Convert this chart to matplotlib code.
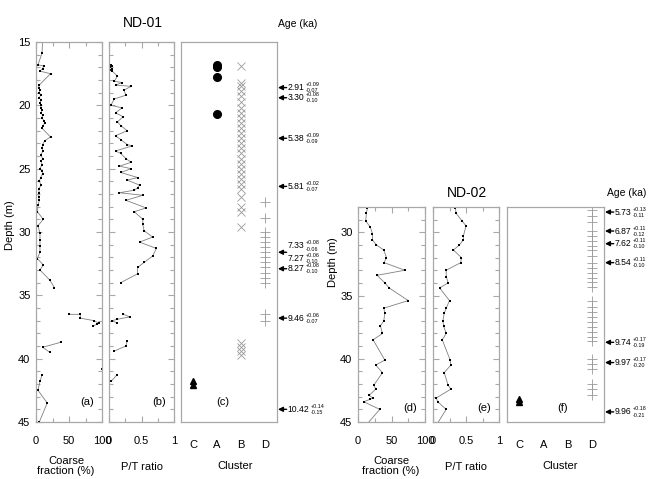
import matplotlib
matplotlib.use('Agg')
import matplotlib.pyplot as plt
import matplotlib.transforms as mtransforms
from matplotlib.ticker import MultipleLocator
from matplotlib import font_manager
import numpy as np

nan = np.nan

# ---- ND-01 data ----
# coarse fraction (%) vs depth (m), nan breaks the line
nd01_coarse_depth = [15.0, 15.9, 16.8, 16.9, 17.1, 17.3, 17.5, 18.4, 18.6, 18.8, 19.0, 19.2, 19.4,
                     19.6, 19.8, 20.0, 20.2, 20.4, 20.6, 20.8, 21.0, 21.2, 21.4, 21.6, 21.8, 22.5,
                     22.8, 23.1, 23.4, 23.6, 23.9, 24.2, 24.4, 24.7, 25.0, 25.2, 25.4, 25.7, 26.0,
                     26.3, 26.6, 26.9, 27.2, 27.5, 27.9, 28.4, 29.0, 29.5, 30.1, 30.6, 31.1, 31.6,
                     32.1, 32.6, 33.0, 33.8, 34.4, nan,
                     36.5, 36.5, 36.8, 37.0, 37.2, 37.3, 37.4, nan,
                     38.7, 39.1, 39.5, nan,
                     40.8, nan,
                     41.3, 41.8, 42.5, 43.5, 45.0]
nd01_coarse = [10, 9, 3, 12, 10, 6, 22, 5, 4, 6, 5, 7, 5,
               8, 6, 8, 7, 9, 8, 10, 9, 12, 13, 11, 9, 22,
               13, 10, 9, 11, 7, 10, 8, 9, 6, 9, 10, 7, 5,
               8, 4, 5, 4, 5, 3, 2, 11, 3, 6, 6, 6, 6,
               2, 11, 6, 21, 28, nan,
               50, 67, 67, 88, 95, 92, 87, nan,
               38, 10, 21, nan,
               100, nan,
               9, 6, 3, 17, 5]

# P/T ratio vs depth (m)
nd01_pt_depth = [16.8, 16.9, 17.0, 17.1, 17.2, 17.3, 17.7, 18.1, 18.2, 18.4, 18.5, 18.8, 19.2,
                 19.5, 20.0, 20.2, 20.6, 20.9, 21.3, 21.6, 22.0, 22.4, 22.7, 23.1, 23.2, 23.6,
                 23.8, 24.2, 24.5, 24.8, 25.0, 25.3, 25.7, 25.9, 26.3, 26.5, 26.7, 26.9, 27.1,
                 27.5, 28.1, 28.4, 29.0, 29.4, 29.9, 30.4, 30.8, 31.3, 31.9, 32.4, 32.8, 33.3,
                 34.0, nan,
                 36.5, 36.7, 36.9, 37.0, 37.2, nan,
                 38.6, 39.0, 39.4, nan,
                 41.3, 41.8]
nd01_pt = [0.03, 0.05, 0.02, 0.04, 0.03, 0.05, 0.13, 0.08, 0.20, 0.10, 0.34, 0.23, 0.26,
           0.08, 0.03, 0.20, 0.10, 0.22, 0.13, 0.18, 0.28, 0.10, 0.18, 0.28, 0.36, 0.10,
           0.18, 0.26, 0.34, 0.16, 0.34, 0.18, 0.44, 0.28, 0.47, 0.44, 0.39, 0.16, 0.52,
           0.26, 0.57, 0.39, 0.52, 0.52, 0.54, 0.67, 0.47, 0.73, 0.67, 0.54, 0.44, 0.44,
           0.18, nan,
           0.22, 0.32, 0.12, 0.05, 0.13, nan,
           0.28, 0.26, 0.08, nan,
           0.12, 0.03]

# cluster membership (depth of each sample)
nd01_cl_A = [16.8, 17.0, 17.8, 20.7]
nd01_cl_B = [16.9, 18.2, 18.5, 18.9, 19.3, 19.7, 20.2, 20.6, 21.0, 21.4, 21.8, 22.2, 22.6,
             23.0, 23.4, 23.8, 24.2, 24.6, 25.0, 25.4, 25.8, 26.2, 26.6, 27.2, 28.0, 28.4,
             29.6, 38.8, 39.1, 39.4, 39.7]
nd01_cl_C = [41.8, 42.1]
nd01_cl_D = [27.6, 28.9, 30.0, 30.4, 30.8, 31.2, 31.6, 32.0, 32.4, 32.8, 33.2, 33.6, 34.0,
             36.5, 37.0]

nd01_age_depth = [18.6, 19.4, 22.6, 26.4, 32.9, 36.8, 44.0]
nd01_age = ['2.91', '3.30', '5.38', '5.81', '8.27', '9.46', '10.42']
nd01_age_plus = ['0.09', '0.08', '0.09', '0.02', '0.08', '0.06', '0.14']
nd01_age_minus = ['0.07', '0.10', '0.09', '0.07', '0.10', '0.07', '0.15']
# two dates sharing one arrow
nd01_pair_depth = 31.6
nd01_pair = [('7.33', '0.08', '0.06'), ('7.27', '0.06', '0.10')]

# ---- ND-02 data ----
nd02_depth = [28.1, 28.5, 29.1, 29.6, 30.1, 30.6, 31.0, 31.4, 32.0, 32.4, 33.0, 33.4, 34.0,
              34.4, 35.4, 36.0, 36.4, 37.0, 37.4, 38.0, 38.5, 40.1, 40.5, 41.1, 42.1, 42.4,
              42.9, 43.1, 43.2, 43.4, 44.0, 45.5]
nd02_coarse = [14, 12.5, 11.5, 18.5, 21.5, 21.5, 27.5, 38.5, 42.5, 39, 70, 28.5, 40,
               46.5, 75, 38.5, 40, 38.5, 33.5, 36.5, 22.5, 40, 26.5, 36.5, 23.5, 26.5,
               16.5, 22.5, 18.5, 8.5, 32.5, 8]
nd02_pt_depth = [28.1, 28.5, 29.1, 29.5, 30.3, 30.6, 31.0, 31.4, 32.0, 32.4, 33.0, 33.5, 34.0,
                 34.4, 35.4, 36.0, 36.4, 37.0, 37.4, 38.0, 38.5, 40.1, 40.5, 41.1, 42.1, 42.4,
                 43.1, 43.4, 44.0, 45.5]
nd02_pt = [0.34, 0.35, 0.44, 0.50, 0.46, 0.46, 0.40, 0.31, 0.43, 0.42, 0.20, 0.20, 0.23,
           0.10, 0.25, 0.20, 0.17, 0.15, 0.16, 0.20, 0.14, 0.26, 0.27, 0.17, 0.23, 0.27,
           0.05, 0.07, 0.20, 0.02]

nd02_cl_C = [43.2, 43.4]
nd02_cl_D = [28.2, 28.7, 29.2, 29.9, 30.3, 30.7, 31.1, 31.4, 31.9, 32.4, 32.8, 33.2, 33.6,
             33.9, 34.3, 35.4, 35.9, 36.3, 36.7, 37.1, 37.5, 37.9, 38.3, 38.6, 40.0, 40.4,
             40.8, 42.0, 42.4, 42.9]

nd02_age_depth = [28.4, 29.9, 30.9, 32.4, 38.7, 40.3, 44.2]
nd02_age = ['5.73', '6.87', '7.62', '8.54', '9.74', '9.97', '9.96']
nd02_age_plus = ['0.13', '0.11', '0.11', '0.11', '0.17', '0.17', '0.18']
nd02_age_minus = ['0.11', '0.12', '0.10', '0.10', '0.19', '0.20', '0.21']

cluster_names = ['C', 'A', 'B', 'D']

# ---- style ----
plt.rcParams['font.family'] = 'Liberation Sans'

GRAY = '#a8a8a8'
W, H = 651, 479
fig = plt.figure(figsize=(W / 100, H / 100), dpi=100)
renderer = fig.canvas.get_renderer()


def rect(x0, y0, x1, y1):
    return [x0 / W, 1 - y1 / H, (x1 - x0) / W, (y1 - y0) / H]


def frame(ax):
    for s in ax.spines.values():
        s.set_color(GRAY)
        s.set_linewidth(0.9)


def data_panel(ax, top, xmax, xmajor, xminor, show_y):
    frame(ax)
    ax.set_ylim(45, top)
    ax.set_xlim(0, xmax)
    ax.yaxis.set_major_locator(MultipleLocator(5))
    ax.yaxis.set_minor_locator(MultipleLocator(1))
    ax.xaxis.set_major_locator(MultipleLocator(xmajor))
    ax.xaxis.set_minor_locator(MultipleLocator(xminor))
    ax.xaxis.set_major_formatter(plt.FuncFormatter(lambda v, p: '%g' % v))
    ax.tick_params(which='both', direction='in', top=True, right=True, color=GRAY, width=0.8)
    ax.tick_params(which='major', length=4)
    ax.tick_params(which='minor', length=3)
    ax.tick_params(axis='x', labelsize=8, pad=10)
    ax.tick_params(axis='y', labelsize=8, pad=4, labelleft=show_y)


def cluster_panel(ax, top):
    frame(ax)
    ax.set_ylim(45, top)
    ax.set_xlim(0.5, 4.5)
    ax.set_yticks([])
    ax.set_xticks([1, 2, 3, 4])
    ax.set_xticklabels(cluster_names)
    ax.tick_params(axis='x', length=0, labelsize=8, pad=13)


def age_label(ax, depth, val, plus, minus, arrow=True, dy=0.0):
    tr = mtransforms.blended_transform_factory(ax.transAxes, ax.transData)
    if arrow:
        ax.annotate('', xy=(1.01, depth), xycoords=tr, xytext=(1.10, depth), textcoords=tr,
                    arrowprops=dict(arrowstyle='-|>', color='k', lw=1.0, mutation_scale=7,
                                    shrinkA=0, shrinkB=0), annotation_clip=False)
    t = ax.text(1.112, depth + dy, val, transform=tr, ha='left', va='center', fontsize=6.2,
                clip_on=False)
    bb = t.get_window_extent(renderer)
    x = (bb.x1 + 1.5) / W
    yc = (bb.y0 + bb.y1) / 2
    fig.text(x, (yc + 3.0) / H, '+' + plus, ha='left', va='center', fontsize=3.9)
    fig.text(x, (yc - 3.2) / H, '-' + minus, ha='left', va='center', fontsize=3.9)


def line_plot(ax, x, y):
    ax.plot(x, y, '-', color='0.5', lw=0.6)
    ax.plot(x, y, 's', color='k', ms=2.0, mew=0, ls='none')


def clusters(ax, groups):
    for pos, depths, style in groups:
        ax.plot(np.full(len(depths), pos), depths, ls='none', **style)


A_STYLE = dict(marker='o', color='k', ms=5.5)
B_STYLE = dict(marker='x', color='#9a9a9a', ms=6, mew=0.6)
C_STYLE = dict(marker='^', color='k', ms=4.5)
D_STYLE = dict(marker='+', color='#9a9a9a', ms=7, mew=0.6)

# ---- ND-01 ----
a1 = fig.add_axes(rect(36, 42, 102, 422))
data_panel(a1, 15, 100, 50, 25, True)
line_plot(a1, nd01_coarse, nd01_coarse_depth)
a1.text(0.88, 0.04, '(a)', transform=a1.transAxes, ha='right', va='bottom', fontsize=8)

b1 = fig.add_axes(rect(109, 42, 174, 422))
data_panel(b1, 15, 1, 0.5, 0.25, False)
line_plot(b1, nd01_pt, nd01_pt_depth)
b1.text(0.88, 0.04, '(b)', transform=b1.transAxes, ha='right', va='bottom', fontsize=8)

c1 = fig.add_axes(rect(181, 42, 277, 422))
cluster_panel(c1, 15)
clusters(c1, [(1, nd01_cl_C, C_STYLE), (2, nd01_cl_A, A_STYLE),
              (3, nd01_cl_B, B_STYLE), (4, nd01_cl_D, D_STYLE)])
c1.text(0.44, 0.04, '(c)', transform=c1.transAxes, ha='center', va='bottom', fontsize=8)
for d, v, p, m in zip(nd01_age_depth, nd01_age, nd01_age_plus, nd01_age_minus):
    age_label(c1, d, v, p, m)
age_label(c1, nd01_pair_depth, *nd01_pair[0], arrow=True, dy=-0.5)
age_label(c1, nd01_pair_depth, *nd01_pair[1], arrow=False, dy=0.5)

fig.text(143 / W, 1 - 23 / H, 'ND-01', ha='center', va='center', fontsize=10)
fig.text(298 / W, 1 - 24 / H, 'Age (ka)', ha='center', va='center', fontsize=7.5)
fig.text(10 / W, 1 - 225 / H, 'Depth (m)', ha='center', va='center', rotation=90, fontsize=8)
fig.text(66 / W, 1 - 466 / H, 'Coarse\nfraction (%)', ha='center', va='center', fontsize=8,
         linespacing=1.1)
fig.text(142 / W, 1 - 467 / H, 'P/T ratio', ha='center', va='center', fontsize=8)
fig.text(235 / W, 1 - 466 / H, 'Cluster', ha='center', va='center', fontsize=8)

# ---- ND-02 ----
d2 = fig.add_axes(rect(358, 207, 425, 422))
data_panel(d2, 28, 100, 50, 25, True)
line_plot(d2, nd02_coarse, nd02_depth)
d2.text(0.88, 0.04, '(d)', transform=d2.transAxes, ha='right', va='bottom', fontsize=8)

e2 = fig.add_axes(rect(433, 207, 499, 422))
data_panel(e2, 28, 1, 0.5, 0.25, False)
line_plot(e2, nd02_pt, nd02_pt_depth)
e2.text(0.88, 0.04, '(e)', transform=e2.transAxes, ha='right', va='bottom', fontsize=8)

f2 = fig.add_axes(rect(507, 207, 604, 422))
cluster_panel(f2, 28)
clusters(f2, [(1, nd02_cl_C, C_STYLE), (4, nd02_cl_D, D_STYLE)])
f2.text(0.57, 0.04, '(f)', transform=f2.transAxes, ha='center', va='bottom', fontsize=8)
for d, v, p, m in zip(nd02_age_depth, nd02_age, nd02_age_plus, nd02_age_minus):
    age_label(f2, d, v, p, m)

fig.text(467 / W, 1 - 193 / H, 'ND-02', ha='center', va='center', fontsize=10)
fig.text(627 / W, 1 - 193 / H, 'Age (ka)', ha='center', va='center', fontsize=7.5)
fig.text(333 / W, 1 - 262 / H, 'Depth (m)', ha='center', va='center', rotation=90, fontsize=8)
fig.text(391 / W, 1 - 466 / H, 'Coarse\nfraction (%)', ha='center', va='center', fontsize=8,
         linespacing=1.1)
fig.text(466 / W, 1 - 467 / H, 'P/T ratio', ha='center', va='center', fontsize=8)
fig.text(560 / W, 1 - 466 / H, 'Cluster', ha='center', va='center', fontsize=8)

fig.savefig('out.png', dpi=100)
